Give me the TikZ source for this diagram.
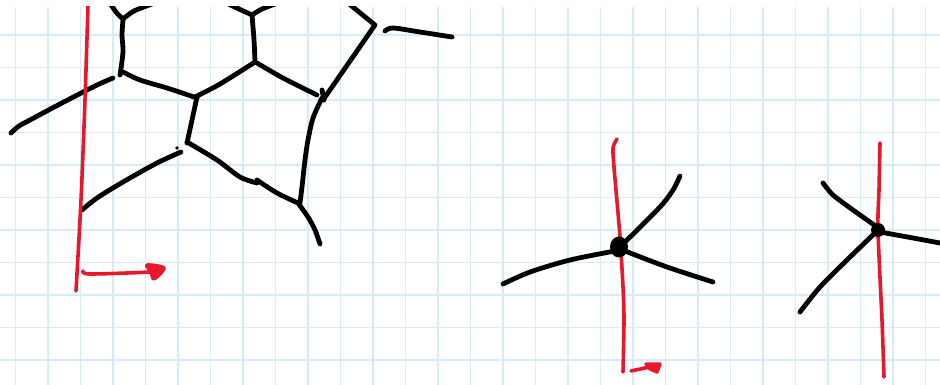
\documentclass[tikz,border=0pt]{standalone}
\definecolor{gridblue}{HTML}{D6ECF8}
\definecolor{penred}{HTML}{E8172B}
\tikzset{
  gridl/.style={draw=gridblue, line width=1.5pt},
  blk/.style={draw=black, line width=4.8pt, line cap=round, line join=round},
  rd/.style={draw=penred, line width=3.6pt, line cap=round, line join=round},
  rdhead/.style={draw=penred, fill=penred, line width=3.4pt, line join=round},
}
\begin{document}
\begin{tikzpicture}[x=1pt,y=-1pt]
\fill[white] (0,0) rectangle (940,385);
\useasboundingbox (0,0) rectangle (940,385);
% grid paper
\foreach \k in {0,...,28} \draw[gridl] ({15.7+32.49*\k},7) -- ({15.7+32.49*\k},385);
\foreach \k in {0,...,10} \draw[gridl] (0,{35+32.49*\k}) -- (940,{35+32.49*\k});
\begin{scope}
\clip (0,7) rectangle (940,385);
% ---- left sketch (black strokes)
\draw[blk] plot[smooth] coordinates {(108,0) (116,12) (123,19)};
\draw[blk] plot[smooth] coordinates {(123,19) (134,11) (152,4)};
\draw[blk] plot[smooth] coordinates {(123,20) (122,35) (123,52) (120,75)};
\draw[blk] plot[smooth] coordinates {(113,78) (95,86) (60,104) (30,120) (19,126) (11,133)};
\draw[blk] plot[smooth] coordinates {(123,72) (140,80) (167,88) (197,98)};
\draw[blk] plot[smooth] coordinates {(195,97) (220,84) (255,62)};
\draw[blk] plot[smooth] coordinates {(255,62) (254,40) (252,15)};
\draw[blk] plot[smooth] coordinates {(222,1) (239,9) (252,15)};
\draw[blk] plot[smooth] coordinates {(252,15) (262,9) (278,3)};
\draw[blk] plot[smooth] coordinates {(257,63) (283,78) (317,95)};
\draw[blk] (322,90) -- (324,100);
\draw[blk] (323,100) -- (375,25) -- (348,3);
\draw[blk] plot[smooth] coordinates {(385,31) (393,28) (420,32) (452,37)};
\draw[blk] plot[smooth] coordinates {(322,98) (313,118) (308,140) (305,160) (302,187) (300,203)};
\draw[blk] (187,143) -- (197,97);
\draw[blk] plot[smooth] coordinates {(187,142) (217,160) (240,177) (257,183)};
\draw[blk] plot[smooth] coordinates {(257,180) (277,193) (298,203)};
\draw[blk] plot[smooth] coordinates {(298,203) (308,217) (315,230) (320,244)};
\draw[blk] plot[smooth] coordinates {(181,152) (157,163) (123,182) (97,198) (82,210)};
\fill (177,148) circle (1.8pt);
% left red line and arrow
\draw[rd] plot[smooth] coordinates {(88,5) (85,100) (81,200) (76,291)};
\draw[rd] plot[smooth] coordinates {(83,271) (90,274) (150,272) (161,270)};
\draw[rdhead] plot[smooth cycle] coordinates {(147,265) (164,268) (154,279) (151,272)};
% ---- middle star
\draw[rd] plot[smooth] coordinates {(617,139) (613,148) (614,167) (616,190) (620,237) (623,287) (624,320) (623,372)};
\draw[rd] plot[smooth] coordinates {(631,371) (645,368) (656,366)};
\draw[rdhead] (646,364) -- (660,364) -- (657,372) -- (650,369) -- cycle;
\draw[blk] plot[smooth] coordinates {(620,245) (627,240) (660,207) (673,190) (680,176)};
\draw[blk] plot[smooth] coordinates {(615,251) (570,260) (530,272) (503,284)};
\draw[blk] plot[smooth] coordinates {(625,251) (667,267) (713,282)};
\fill (619,247) ellipse (9pt and 10.5pt);
% ---- right star
\draw[blk] plot[smooth] coordinates {(823,183) (833,195) (853,210) (877,227)};
\draw[blk] plot[smooth] coordinates {(880,232) (913,238) (940,243)};
\draw[blk] plot[smooth] coordinates {(876,232) (847,260) (820,287) (800,312)};
\draw[rd] plot[smooth] coordinates {(880,143) (879,190) (878,230) (882,320) (884,377)};
\fill (878,230) circle (7pt);
\end{scope}
\end{tikzpicture}
\end{document}
